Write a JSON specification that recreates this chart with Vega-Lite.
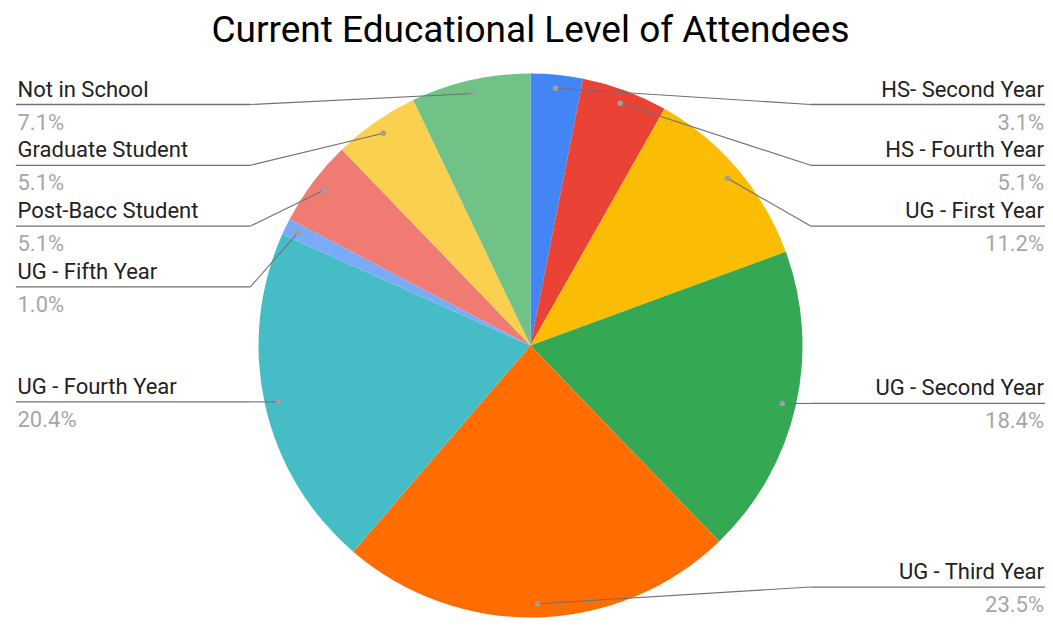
{
  "$schema": "https://vega.github.io/schema/vega-lite/v6.json",
  "width": 1045,
  "height": 579,
  "autosize": {"type": "none"},
  "padding": {"left": 8, "top": 56, "right": 0, "bottom": 0},
  "background": "#ffffff",
  "title": {
    "text": "Current Educational Level of Attendees",
    "font": "Roboto",
    "fontSize": 37,
    "fontWeight": 400,
    "color": "#000000",
    "anchor": "middle",
    "offset": 6
  },
  "config": {"view": {"stroke": null}},
  "data": {
    "values": [
      {"level": "HS- Second Year", "pct": 3.1},
      {"level": "HS - Fourth Year", "pct": 5.1},
      {"level": "UG - First Year", "pct": 11.2},
      {"level": "UG - Second Year", "pct": 18.4},
      {"level": "UG - Third Year", "pct": 23.5},
      {"level": "UG - Fourth Year", "pct": 20.4},
      {"level": "UG - Fifth Year", "pct": 1.0},
      {"level": "Post-Bacc Student", "pct": 5.1},
      {"level": "Graduate Student", "pct": 5.1},
      {"level": "Not in School", "pct": 7.1}
    ]
  },
  "transform": [
    {"window": [{"op": "row_number", "as": "idx"}]},
    {"joinaggregate": [{"op": "sum", "field": "pct", "as": "total"}]},
    {"window": [{"op": "sum", "field": "pct", "as": "cum"}], "sort": [{"field": "idx"}], "frame": [null, 0]},
    {"calculate": "2 * PI * (datum.cum - datum.pct / 2) / datum.total", "as": "mid"},
    {"calculate": "0.95 * sin(datum.mid)", "as": "ax"},
    {"calculate": "0.95 * cos(datum.mid)", "as": "ay"},
    {"calculate": "datum.ax < 0 ? 'left' : 'right'", "as": "side"},
    {"window": [{"op": "row_number", "as": "rank"}], "groupby": ["side"], "sort": [{"field": "ay", "order": "descending"}]},
    {"calculate": "max(min(datum.ay, 0.886 - 0.2235 * (datum.rank - 1)), -0.888)", "as": "ly"},
    {"calculate": "datum.side == 'left' ? -1.03 : 1.03", "as": "ex"},
    {"calculate": "datum.side == 'left' ? -1.892 : 1.8915", "as": "lx"},
    {"calculate": "datum.side == 'left' ? -1.886 : 1.888", "as": "tx"},
    {"calculate": "format(datum.pct / datum.total, '.1%')", "as": "label"}
  ],
  "layer": [
    {
      "mark": {"type": "arc", "outerRadius": 272},
      "encoding": {
        "theta": {"field": "pct", "type": "quantitative", "stack": true},
        "order": {"field": "idx", "type": "quantitative"},
        "color": {
          "field": "level",
          "type": "nominal",
          "legend": null,
          "scale": {
            "domain": ["HS- Second Year", "HS - Fourth Year", "UG - First Year", "UG - Second Year", "UG - Third Year", "UG - Fourth Year", "UG - Fifth Year", "Post-Bacc Student", "Graduate Student", "Not in School"],
            "range": ["#4285F4", "#EA4335", "#FBBC04", "#34A853", "#FF6D01", "#46BDC6", "#7BAAF7", "#F07B72", "#FCD04F", "#71C287"]
          }
        }
      }
    },
    {
      "mark": {"type": "rule", "color": "#707070", "strokeWidth": 1.1},
      "encoding": {
        "x": {"field": "ax", "type": "quantitative", "axis": null, "scale": {"domain": [-1.92096, 1.92096], "nice": false, "zero": false}},
        "y": {"field": "ay", "type": "quantitative", "axis": null, "scale": {"domain": [-1.06434, 1.06434], "nice": false, "zero": false}},
        "x2": {"field": "ex"},
        "y2": {"field": "ly"}
      }
    },
    {
      "mark": {"type": "rule", "color": "#707070", "strokeWidth": 1.3},
      "encoding": {
        "x": {"field": "ex", "type": "quantitative"},
        "x2": {"field": "lx"},
        "y": {"field": "ly", "type": "quantitative"}
      }
    },
    {
      "mark": {"type": "point", "filled": true, "color": "#9e9e9e", "size": 30, "opacity": 1},
      "encoding": {
        "x": {"field": "ax", "type": "quantitative"},
        "y": {"field": "ay", "type": "quantitative"}
      }
    },
    {
      "transform": [{"filter": "datum.side == 'left'"}],
      "mark": {"type": "text", "align": "left", "baseline": "alphabetic", "dy": -8, "font": "Roboto", "fontSize": 22, "color": "#222222"},
      "encoding": {
        "x": {"field": "tx", "type": "quantitative"},
        "y": {"field": "ly", "type": "quantitative"},
        "text": {"field": "level"}
      }
    },
    {
      "transform": [{"filter": "datum.side == 'right'"}],
      "mark": {"type": "text", "align": "right", "baseline": "alphabetic", "dy": -8, "font": "Roboto", "fontSize": 22, "color": "#222222"},
      "encoding": {
        "x": {"field": "tx", "type": "quantitative"},
        "y": {"field": "ly", "type": "quantitative"},
        "text": {"field": "level"}
      }
    },
    {
      "transform": [{"filter": "datum.side == 'left'"}],
      "mark": {"type": "text", "align": "left", "baseline": "alphabetic", "dy": 25, "font": "Roboto", "fontSize": 22, "color": "#a6a6a6"},
      "encoding": {
        "x": {"field": "tx", "type": "quantitative"},
        "y": {"field": "ly", "type": "quantitative"},
        "text": {"field": "label"}
      }
    },
    {
      "transform": [{"filter": "datum.side == 'right'"}],
      "mark": {"type": "text", "align": "right", "baseline": "alphabetic", "dy": 25, "font": "Roboto", "fontSize": 22, "color": "#a6a6a6"},
      "encoding": {
        "x": {"field": "tx", "type": "quantitative"},
        "y": {"field": "ly", "type": "quantitative"},
        "text": {"field": "label"}
      }
    }
  ]
}
